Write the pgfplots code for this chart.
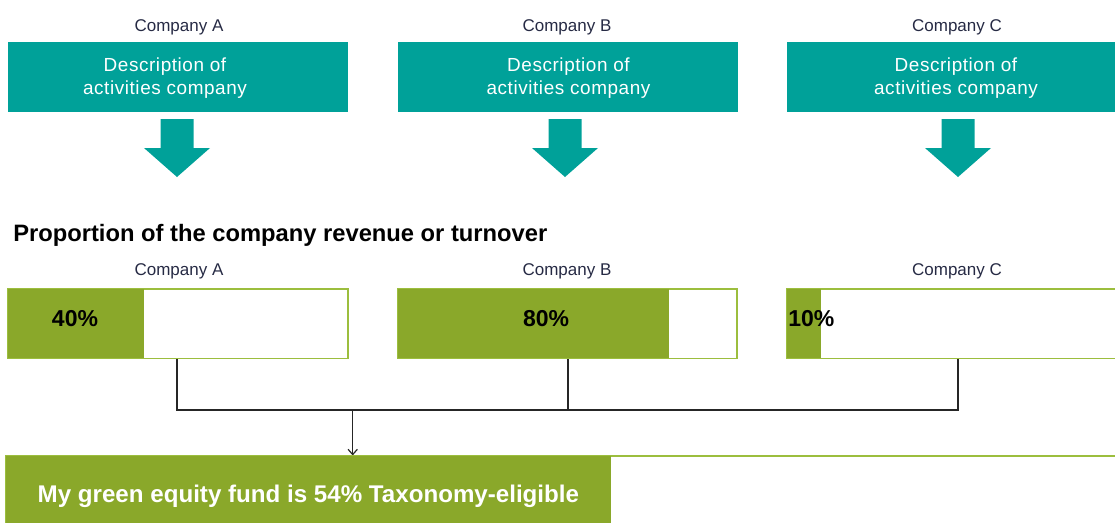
\documentclass[border=0pt]{standalone}
\usepackage{fontspec}
\setmainfont{Liberation Sans}
\usepackage{pgfplots}
\pgfplotsset{compat=1.18}
\usetikzlibrary{arrows.meta}
\definecolor{tealbox}{HTML}{00A199}
\definecolor{bargreen}{HTML}{8AA82A}
\definecolor{edgegreen}{HTML}{9CBE3E}
\definecolor{navy}{HTML}{262A44}

\newcommand{\lab}{\fontsize{12.75pt}{15pt}\selectfont}
\newcommand{\desc}{\fontsize{14.2pt}{16pt}\selectfont\addfontfeature{LetterSpace=3}}
\newcommand{\ttl}{\fontsize{17.8pt}{20pt}\selectfont\bfseries}
\newcommand{\pct}{\fontsize{17.25pt}{20pt}\selectfont\bfseries}
\newcommand{\fund}{\fontsize{18.1pt}{21pt}\selectfont\bfseries}

% one axis per company: a single horizontal bar, 0-100 %
\pgfplotsset{propbar/.style={
  anchor=north west, scale only axis,
  height=52pt,
  xmin=0, xmax=100, ymin=0.5, ymax=1.5,
  xbar, bar width=1,
  xtick=\empty, ytick=\empty,
  axis line style={draw=edgegreen, line width=1.1pt},
  clip=false
}}

\begin{document}
\begin{tikzpicture}[x=0.75pt, y=-0.75pt]
\useasboundingbox (0,0) rectangle (1115,522);
\clip (0,0) rectangle (1115,522);

% top row: company names, description boxes, block arrows
\foreach \cx/\dx/\bx/\nm in {179/165/8/A, 567/568.5/398/B, 957/956/787/C}{
  \node[anchor=base, text=navy, inner sep=0] at (\cx,31.5) {\lab Company \nm};
  \fill[tealbox] (\bx,42) rectangle ++(339.5,69.5);
  \node[anchor=base, text=white, inner sep=0] at (\dx,71.5) {\desc Description of};
  \node[anchor=base, text=white, inner sep=0] at (\dx,94) {\desc activities company};
}
\foreach \ax in {177,565,958}{
  \fill[tealbox] (\ax-16.5,119) -- (\ax+16.5,119) -- (\ax+16.5,148) -- (\ax+33,148)
    -- (\ax,177) -- (\ax-33,148) -- (\ax-16.5,148) -- cycle;
}

\node[anchor=base west, inner sep=0] at (13,241) {\ttl Proportion of the company revenue or turnover};

\foreach \cx/\nm in {179/A, 567/B, 957/C}{
  \node[anchor=base, text=navy, inner sep=0] at (\cx,275.7) {\lab Company \nm};
}

% connectors
\draw[line width=0.9pt, draw=black!85] (177,358.5) -- (177,410) -- (958,410) -- (958,358.5);
\draw[line width=0.9pt, draw=black!85] (568,358.5) -- (568,410);
\draw[line width=0.9pt, draw=black!85, -{Straight Barb[length=4pt,width=7pt]}] (352.7,410) -- (352.7,455.5);

% company bars (positions in pt: 1 px = 0.75 pt, y downwards)
\begin{axis}[propbar, at={(6pt,-216.75pt)}, width=255pt]
\addplot[fill=bargreen, draw=none] coordinates {(40,1)};
\node[anchor=base, inner sep=0] at (axis cs:19.7,0.96) {\pct 40\%};
\end{axis}
\begin{axis}[propbar, at={(298.5pt,-216.75pt)}, width=254.25pt]
\addplot[fill=bargreen, draw=none] coordinates {(80,1)};
\node[anchor=base, inner sep=0] at (axis cs:43.7,0.96) {\pct 80\%};
\end{axis}
\begin{axis}[propbar, at={(590.25pt,-216.75pt)}, width=255pt]
\addplot[fill=bargreen, draw=none] coordinates {(10,1)};
\node[anchor=base west, inner sep=0] at (axis cs:0.3,0.96) {\pct 10\%};
\end{axis}

% fund result bar
\begin{axis}[propbar, at={(4.5pt,-342pt)}, width=840pt, height=52.5pt]
\addplot[fill=bargreen, draw=none] coordinates {(54,1)};
\node[anchor=base, inner sep=0, text=white] at (axis cs:27,0.83) {\fund My green equity fund is 54\% Taxonomy-eligible};
\end{axis}
\end{tikzpicture}
\end{document}
